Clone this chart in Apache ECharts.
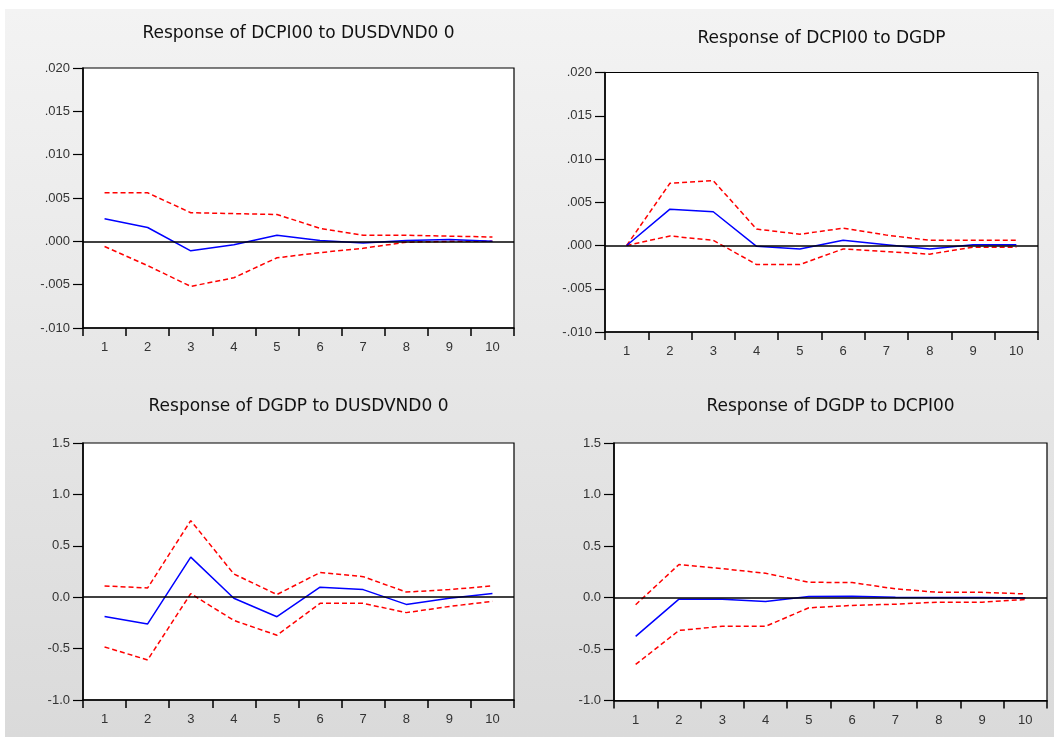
<!DOCTYPE html>
<html>
<head>
<meta charset="utf-8">
<script src="https://cdn.jsdelivr.net/npm/echarts@6/dist/echarts.min.js"></script>
<style>
html,body{margin:0;padding:0;background:#fff;}
#c{width:1054px;height:737px;}
</style>
</head>
<body>
<div id="c"></div>
<script>
var periods = ['1','2','3','4','5','6','7','8','9','10'];

var titles = [
  'Response of DCPI00 to DUSDVND0 0',
  'Response of DCPI00 to DGDP',
  'Response of DGDP to DUSDVND0 0',
  'Response of DGDP to DCPI00'
];

// Panel 1: DCPI00 to DUSDVND00
var p1Resp  = [0.0026, 0.0016, -0.0011, -0.0004, 0.0007, 0.0001, -0.0002, 0.0001, 0.0002, 0.0000];
var p1Upper = [0.0056, 0.0056, 0.0033, 0.0032, 0.0031, 0.0015, 0.0007, 0.0007, 0.0006, 0.0005];
var p1Lower = [-0.0006, -0.0028, -0.0052, -0.0042, -0.0019, -0.0013, -0.0008, -0.0001, 0.0000, 0.0000];

// Panel 2: DCPI00 to DGDP
var p2Resp  = [0.0000, 0.0042, 0.0039, -0.0001, -0.0004, 0.0006, 0.0001, -0.0004, 0.0001, 0.0001];
var p2Upper = [0.0000, 0.0072, 0.0075, 0.0019, 0.0013, 0.0020, 0.0012, 0.0006, 0.0006, 0.0006];
var p2Lower = [0.0000, 0.0011, 0.0006, -0.0022, -0.0022, -0.0004, -0.0007, -0.0010, -0.0002, -0.0002];

// Panel 3: DGDP to DUSDVND00
var p3Resp  = [-0.187, -0.26, 0.39, -0.01, -0.19, 0.097, 0.074, -0.07, -0.01, 0.035];
var p3Upper = [0.11, 0.09, 0.745, 0.226, 0.026, 0.24, 0.20, 0.05, 0.074, 0.11];
var p3Lower = [-0.484, -0.61, 0.035, -0.226, -0.37, -0.06, -0.06, -0.15, -0.09, -0.04];

// Panel 4: DGDP to DCPI00
var p4Resp  = [-0.377, -0.016, -0.016, -0.039, 0.010, 0.013, 0.003, 0.000, 0.000, -0.006];
var p4Upper = [-0.07, 0.32, 0.28, 0.235, 0.148, 0.145, 0.084, 0.05, 0.05, 0.035];
var p4Lower = [-0.65, -0.32, -0.28, -0.28, -0.10, -0.077, -0.065, -0.045, -0.045, -0.02];

var yTop = {min: -0.010, max: 0.020, interval: 0.005};
var yBot = {min: -1.0, max: 1.5, interval: 0.5};

function fmtSmall(v) {
  var s = Math.abs(v).toFixed(3).replace(/^0/, '');
  return (v < -1e-9 ? '-' : '') + s;
}
function fmtBig(v) {
  return v.toFixed(1);
}

var grids = [
  {left: 83, top: 68, width: 431, height: 260},
  {left: 605, top: 72.5, width: 433, height: 259.5},
  {left: 83, top: 443, width: 431, height: 257},
  {left: 614, top: 443, width: 433, height: 257.5}
];
var titleY = [35, 39.5, 408, 408];

var panels = [
  {resp: p1Resp, up: p1Upper, lo: p1Lower, y: yTop, fmt: fmtSmall},
  {resp: p2Resp, up: p2Upper, lo: p2Lower, y: yTop, fmt: fmtSmall},
  {resp: p3Resp, up: p3Upper, lo: p3Lower, y: yBot, fmt: fmtBig},
  {resp: p4Resp, up: p4Upper, lo: p4Lower, y: yBot, fmt: fmtBig}
];

var option = {
  animation: false,
  backgroundColor: '#ffffff',
  graphic: [{
    type: 'rect', z: -10, silent: true,
    shape: {x: 5, y: 9, width: 1049, height: 728},
    style: {fill: new echarts.graphic.LinearGradient(0, 0, 0, 1, [
      {offset: 0, color: '#f3f3f3'}, {offset: 1, color: '#dadada'}
    ])}
  }],
  title: [],
  grid: [],
  xAxis: [],
  yAxis: [],
  series: []
};

panels.forEach(function (p, i) {
  var g = grids[i];
  option.grid.push({
    left: g.left, top: g.top, width: g.width, height: g.height,
    show: true, backgroundColor: '#ffffff', borderColor: '#000', borderWidth: 1.2,
    containLabel: false
  });
  option.title.push({
    text: titles[i],
    left: g.left + g.width / 2,
    top: titleY[i] - 9.5,
    textAlign: 'center',
    padding: 0,
    textStyle: {fontFamily: 'DejaVu Sans', fontSize: 17, fontWeight: 'normal', color: '#111'}
  });
  option.xAxis.push({
    type: 'category', gridIndex: i, data: periods, boundaryGap: true,
    axisLine: {show: true, onZero: false, lineStyle: {color: '#000', width: 1.5}},
    axisTick: {show: true, length: 8, lineStyle: {color: '#000', width: 1.5}},
    axisLabel: {margin: 13, fontFamily: 'Liberation Sans', fontSize: 13, color: '#333'},
    splitLine: {show: false}
  });
  option.yAxis.push({
    type: 'value', gridIndex: i, min: p.y.min, max: p.y.max, interval: p.y.interval,
    axisLine: {show: true, onZero: false, lineStyle: {color: '#000', width: 1.5}},
    axisTick: {show: true, length: 10, lineStyle: {color: '#000', width: 1.2}},
    axisLabel: {margin: 13, fontFamily: 'Liberation Sans', fontSize: 13, color: '#333', formatter: p.fmt},
    splitLine: {show: false}
  });
  option.series.push({
    type: 'line', xAxisIndex: i, yAxisIndex: i, data: p.resp,
    symbol: 'none', lineStyle: {color: '#0000ff', width: 1.5}, z: 3
  });
  option.series.push({
    type: 'line', xAxisIndex: i, yAxisIndex: i, data: p.up,
    symbol: 'none', lineStyle: {color: '#ff0000', width: 1.5, type: [5, 3]}, z: 2
  });
  option.series.push({
    type: 'line', xAxisIndex: i, yAxisIndex: i, data: p.lo,
    symbol: 'none', lineStyle: {color: '#ff0000', width: 1.5, type: [5, 3]}, z: 2
  });
  option.series.push({
    type: 'line', xAxisIndex: i, yAxisIndex: i, data: [],
    z: 5,
    markLine: {
      silent: true, symbol: 'none', label: {show: false},
      lineStyle: {color: '#000', width: 1.5, type: 'solid'},
      data: [{yAxis: 0}]
    }
  });
});

var chart = echarts.init(document.getElementById('c'), null, {renderer: 'canvas'});
chart.setOption(option);
</script>
</body>
</html>
